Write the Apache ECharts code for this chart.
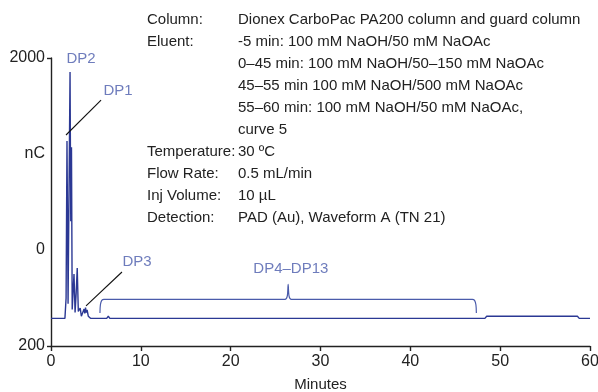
<!DOCTYPE html>
<html>
<head>
    <meta charset="utf-8" />
    <title></title>
    <style>
        html, body { margin: 0; padding: 0; background: #fff; }
        #chart { width: 598px; height: 392px; }
    </style>
</head>
<body>
    <div id="chart"></div>
    <script src="https://cdn.jsdelivr.net/npm/echarts@6/dist/echarts.min.js"></script>
    <script>
        // chromatogram (minutes, nC)
        var times = [0, 1.55, 1.68, 1.78, 1.9, 2.0, 2.12, 2.2, 2.28, 2.36, 2.45, 2.56, 2.68, 2.8, 2.92, 3.04, 3.15, 3.25, 3.38,
            3.55, 3.68, 3.76, 3.84, 3.92, 4.02, 4.15, 4.4, 6.2, 6.38, 6.55, 9.75, 9.92, 10.1, 14.1, 14.28, 14.45,
            19.1, 19.28, 19.45, 48.3, 48.5, 58.6, 58.8, 60];
        var signal = [-712, -712, -500, 1135, -560, -540, 1855, 300, 1070, -620, -640, -250, -650, -450, -188, -640, -660, -604, -690,
            -680, -615, -660, -600, -650, -625, -690, -712, -712, -690, -712, -712, -692, -712, -712, -692, -712,
            -712, -695, -712, -712, -690, -690, -712, -712];

        // bracket over DP4-DP13
        var bracketT = [5.45, 5.5, 5.65, 5.9, 26.05, 26.3, 26.4, 26.5, 26.75, 46.9, 47.15, 47.3, 47.35];
        var bracketV = [-656, -570, -525, -514, -514, -480, -357, -480, -514, -514, -525, -570, -656];

        // pointer lines
        var dp1Line = [[1.67, 1198], [5.57, 1562]];
        var dp3Line = [[3.9, -583], [7.9, -229]];

        var peakNames = ['DP2', 'DP1', 'DP3', 'DP4–DP13'];
        var peakLabelPos = [[3.34, 1990], [7.46, 1656], [9.57, -125], [26.7, -198]];

        var yTicks = { '2000': '2000', '1000': 'nC', '0': '0', '-1000': '200' };

        var infoKeys = ['Column:', 'Eluent:', '', '', '', '', 'Temperature:', 'Flow Rate:', 'Inj Volume:', 'Detection:'];
        var infoValues = ['Dionex CarboPac PA200 column and guard column',
            '-5 min: 100 mM NaOH/50 mM NaOAc',
            '0–45 min: 100 mM NaOH/50–150 mM NaOAc',
            '45–55 min 100 mM NaOH/500 mM NaOAc',
            '55–60 min: 100 mM NaOH/50 mM NaOAc,',
            'curve 5',
            '30 ºC',
            '0.5 mL/min',
            '10 µL',
            'PAD (Au), Waveform A (TN 21)'];

        var font = 'Liberation Sans';
        var lineColor = '#2b3894';
        var labelColor = '#4a5bab';

        var option = {
            animation: false,
            textStyle: { fontFamily: font },
            grid: { left: 51, right: 8, top: 58, bottom: 46, outerBoundsMode: 'none', containLabel: false },
            xAxis: {
                type: 'value', min: 0, max: 60, interval: 10,
                name: 'Minutes', nameLocation: 'middle', nameGap: 31,
                nameTextStyle: { fontSize: 15, color: '#222', fontFamily: font },
                axisLine: { onZero: false, lineStyle: { color: '#222', width: 1.4 } },
                axisTick: { length: 5, lineStyle: { color: '#222', width: 1.4 } },
                axisLabel: { fontSize: 16, color: '#222', margin: 8 },
                splitLine: { show: false }
            },
            yAxis: [{
                type: 'value', min: -1000, max: 2000, interval: 1000,
                axisLine: { show: true, onZero: false, lineStyle: { color: '#222', width: 1.4 } },
                axisTick: { show: false },
                axisLabel: {
                    fontSize: 16, color: '#222', margin: 6,
                    formatter: function (v) { return yTicks[String(v)]; }
                },
                splitLine: { show: false }
            }, {
                type: 'value', min: -1000, max: 2000, interval: 3000, position: 'left',
                axisLine: { show: false, onZero: false },
                axisTick: { show: true, length: 4, lineStyle: { color: '#222', width: 1.4 } },
                axisLabel: { show: false },
                splitLine: { show: false }
            }],
            graphic: [{
                type: 'text', left: 147, top: 9,
                style: { text: infoKeys.join('\n'), font: '15px "Liberation Sans"', lineHeight: 22, fill: '#222' }
            }, {
                type: 'text', left: 238, top: 9,
                style: { text: infoValues.join('\n'), font: '15px "Liberation Sans"', lineHeight: 22, fill: '#222' }
            }],
            series: [{
                type: 'line',
                data: times.map(function (t, i) { return [t, signal[i]]; }),
                showSymbol: false,
                lineStyle: { color: lineColor, width: 1.4 },
                z: 3
            }, {
                type: 'line',
                data: bracketT.map(function (t, i) { return [t, bracketV[i]]; }),
                showSymbol: false, smooth: 0.3,
                lineStyle: { color: labelColor, width: 1.2 }
            }, {
                type: 'line', data: dp1Line, showSymbol: false,
                lineStyle: { color: '#111', width: 1.1 }
            }, {
                type: 'line', data: dp3Line, showSymbol: false,
                lineStyle: { color: '#111', width: 1.1 }
            }, {
                type: 'scatter',
                data: peakLabelPos.map(function (p, i) { return { value: p, name: peakNames[i] }; }),
                symbolSize: 1,
                itemStyle: { color: 'rgba(0,0,0,0)' },
                label: {
                    show: true, position: 'inside', formatter: '{b}',
                    fontSize: 15, color: labelColor, fontFamily: font
                }
            }]
        };

        var chart = echarts.init(document.getElementById('chart'));
        chart.setOption(option);
    </script>
</body>
</html>
